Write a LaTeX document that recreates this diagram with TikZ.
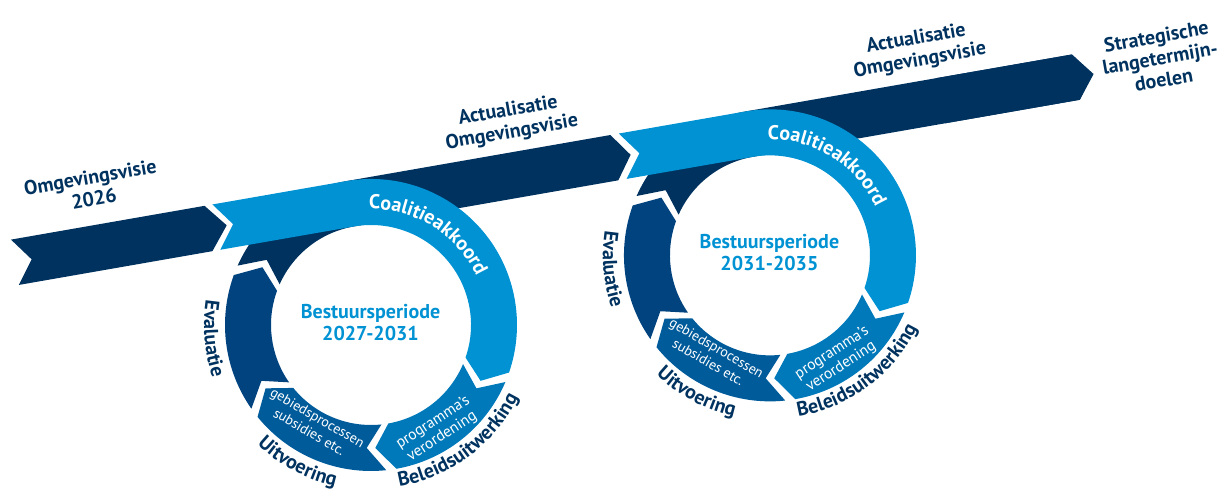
\documentclass[tikz,border=0pt]{standalone}
\usepackage{fontspec}
\setmainfont{PT Sans}
\usetikzlibrary{decorations.text}
\definecolor{CNavy}{HTML}{00325F}
\definecolor{CLight}{HTML}{0092D3}
\definecolor{CMid}{HTML}{0079BA}
\definecolor{CDeep}{HTML}{005B9B}
\definecolor{CEval}{HTML}{00437F}
\newcommand\lblfont{\fontsize{20}{22}\selectfont\bfseries}
\newcommand\thinfont{\fontsize{14}{16.5}\selectfont}

\begin{document}
\begin{tikzpicture}[x=1pt, y=1pt,
    band/.style={fill=CNavy},
    lbl/.style={text=CNavy, font=\lblfont, align=center, rotate=9.9},
    periode/.style={text=CLight, font=\lblfont, align=center},
    inlbl/.style={text=white, font=\thinfont, align=center, inner sep=0pt},
    ontext/.style={decorate, decoration={text along path, text align=center, text color=white, text={|\lblfont|#1}}},
    outtext/.style={decorate, decoration={text along path, text align=center, text color=CNavy, text={|\lblfont|#1}}}
]
  \useasboundingbox (0,0) rectangle (1224,494);
  \begin{scope}[shift={(371,169)}, rotate=9.9]
    \fill[band] (-340,146) -- (-143.5,146) -- (-125,123) -- (-143.5,100) -- (-340,100) -- (-323,123) -- cycle;
    \foreach \i/\cx/\lb/\ar/\per in {1/0/-135.5/268.5/2027-2031, 2/405/-128/332/2031-2035} {
      \begin{scope}[shift={(\cx,0)}]
        \fill[CEval] (205.1:146) arc[start angle=205.1, end angle=150.1, radius=146] -- (142.1:123)
          -- (150.1:100) arc[start angle=150.1, end angle=205.1, radius=100] -- (197.1:123) -- cycle;
        \fill[CDeep] (266.1:146) arc[start angle=266.1, end angle=209.1, radius=146] -- (201.1:123)
          -- (209.1:100) arc[start angle=209.1, end angle=266.1, radius=100] -- (258.1:123) -- cycle;
        \fill[CMid] (327.1:146) arc[start angle=327.1, end angle=270.1, radius=146] -- (262.1:123)
          -- (270.1:100) arc[start angle=270.1, end angle=327.1, radius=100] -- (319.1:123) -- cycle;
        \fill[band] (146.1:146) arc[start angle=146.1, end angle=90, radius=146] -- (\ar,146) -- ({\ar+16.5},123)
          -- (\ar,100) -- (0,100) arc[start angle=90, end angle=146.1, radius=100] -- (138.1:123) -- cycle;
        \fill[CLight] (\lb,146) -- (0,146) arc[start angle=90, end angle=-28.9, radius=146] -- (323.1:123)
          -- (331.1:100) arc[start angle=-28.9, end angle=90, radius=100] -- (\lb,100) -- ({\lb+17},123) -- cycle;
        \node[periode] (per\i) at (0,3) {Bestuursperiode\\\per};
        \node[inlbl, font=\fontsize{15.5}{16.5}\selectfont, rotate=33] (prog\i) at (-67.4:124) {programma's\\verordening};
        \node[inlbl, rotate=-30] (geb\i) at (-129.9:115) {gebiedsprocessen\\subsidies etc.};
        \path[ontext=Coalitieakkoord] (100:116) arc[start angle=100, end angle=-4, radius=116];
        \path[outtext=Beleidsuitwerking] (-120:164) arc[start angle=-120, end angle=-6, radius=164];
        \path[outtext=Uitvoering] (-165:165) arc[start angle=-165, end angle=-91, radius=165];
        \path[outtext=Evaluatie] (140:167) arc[start angle=140, end angle=210, radius=167];
      \end{scope}
    }
    \fill[band] (737,146) -- (755,123) -- (737,100) -- (600,100) -- (600,146) -- cycle;
  \end{scope}
  \node[lbl] (visie) at (92,306) {Omgevingsvisie\\2026};
  \node[lbl] (actueel1) at (510,372) {Actualisatie\\Omgevingsvisie};
  \node[lbl] (actueel2) at (918,444) {Actualisatie\\Omgevingsvisie};
  \node[lbl] (doelen) at (1160,436) {Strategische\\langetermijn-\\doelen};
\end{tikzpicture}
\end{document}
